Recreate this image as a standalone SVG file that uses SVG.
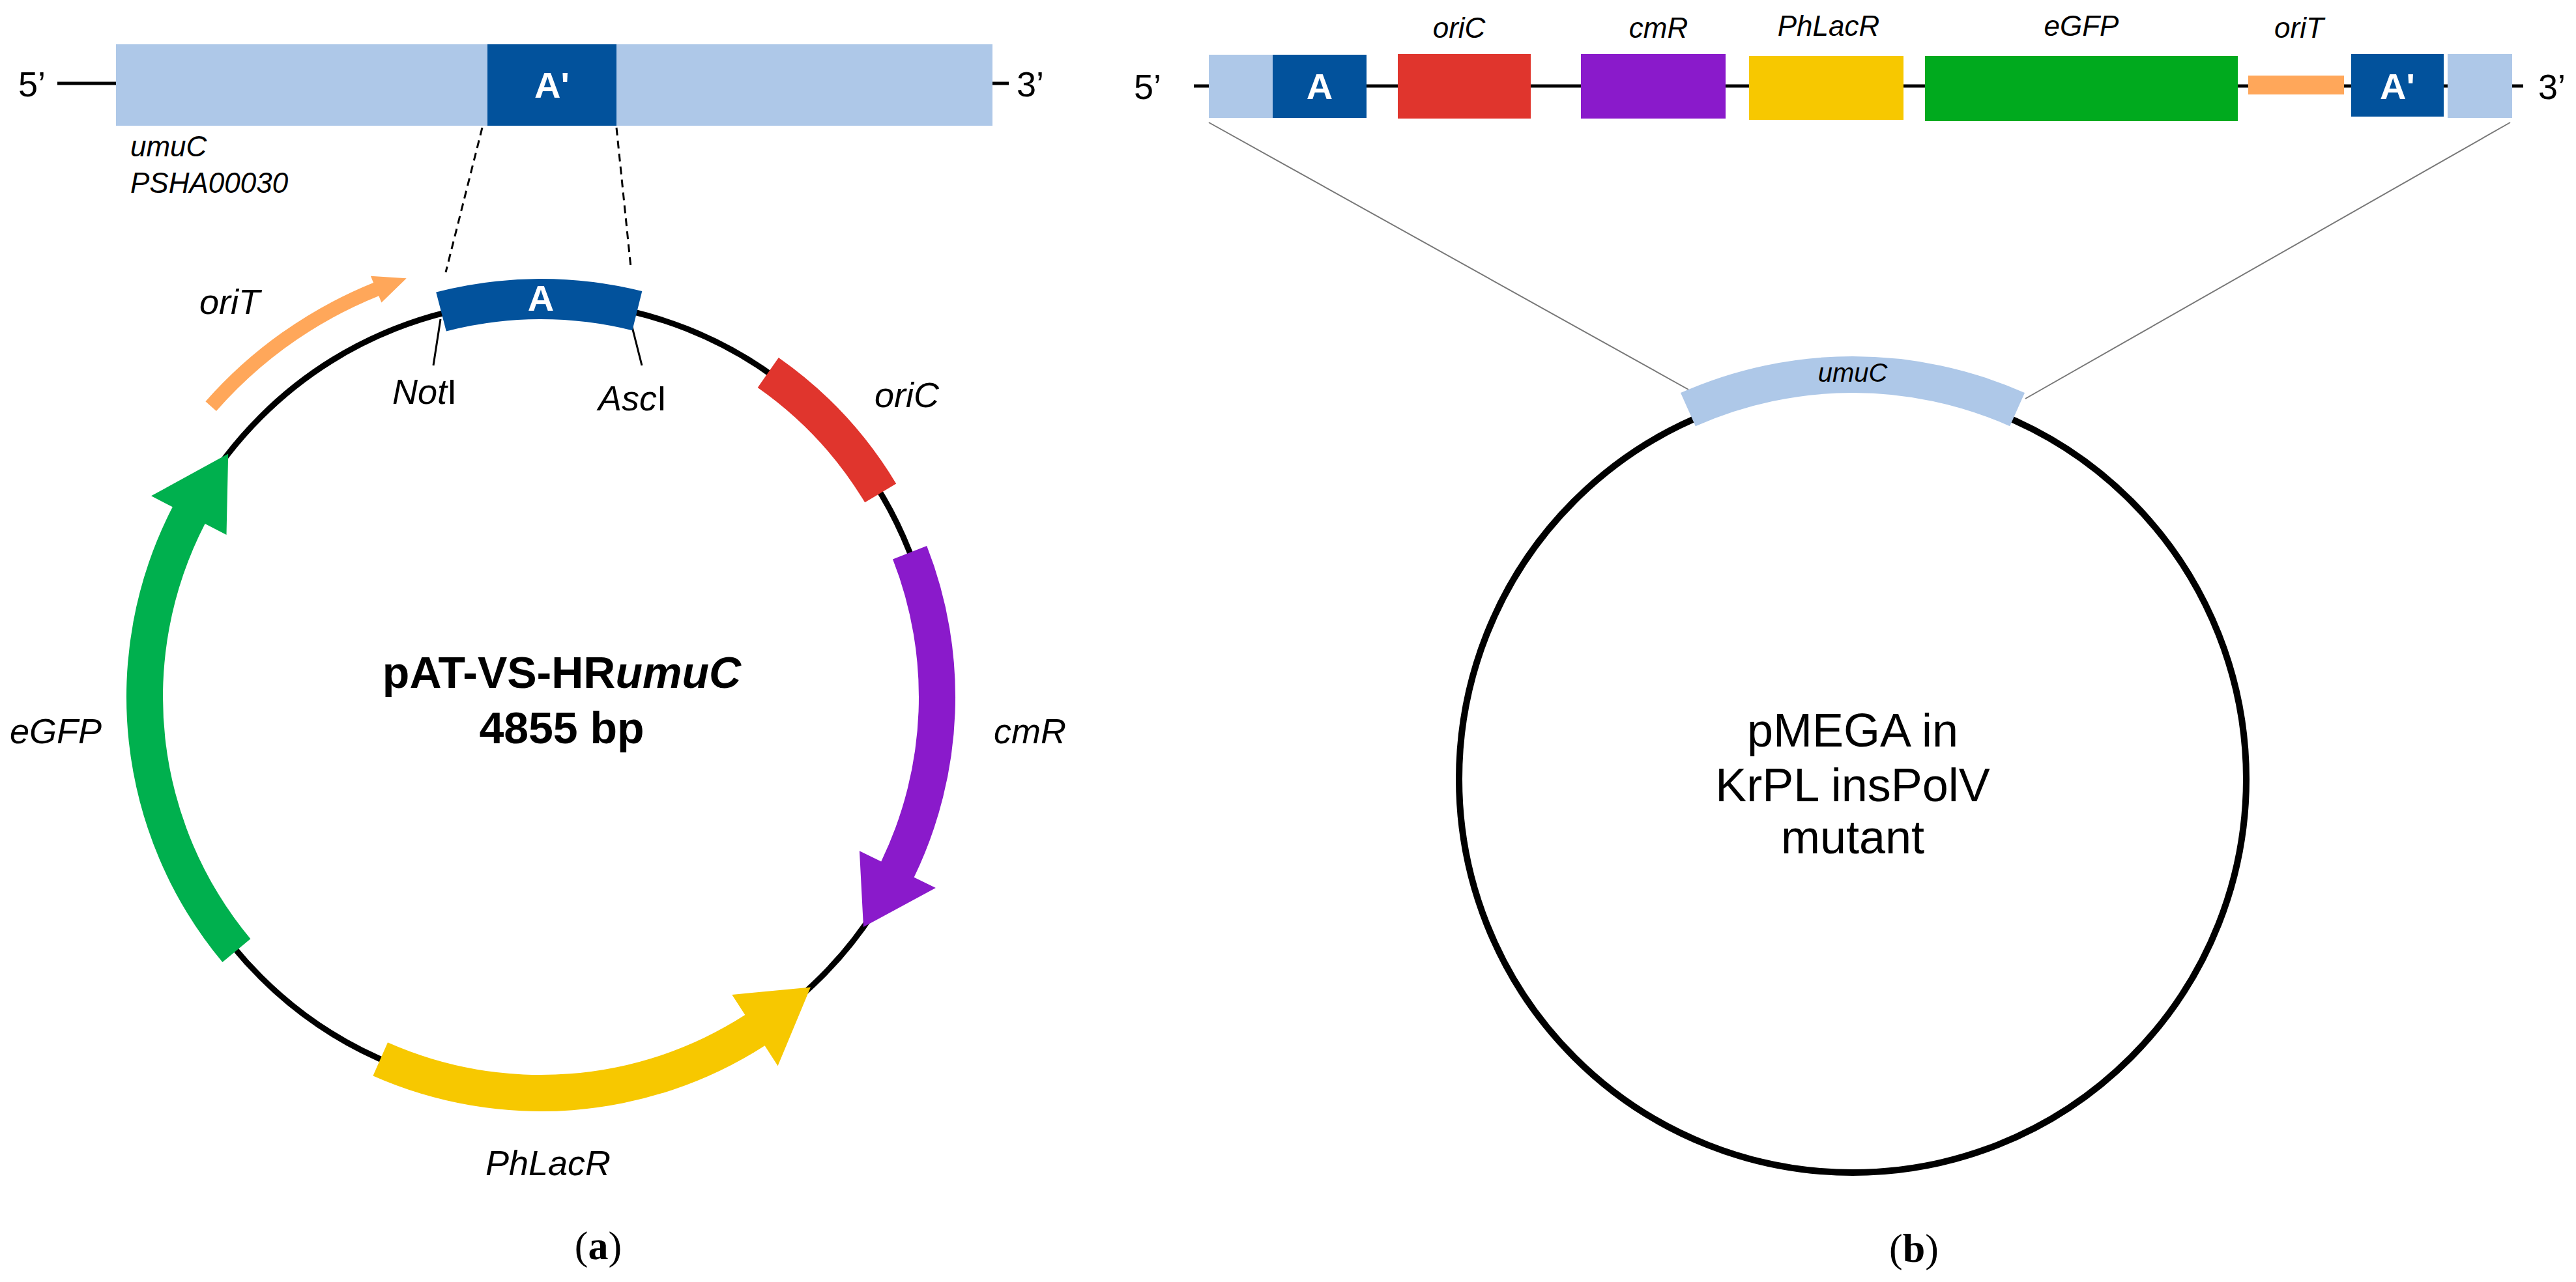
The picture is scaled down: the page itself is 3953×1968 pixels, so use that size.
<svg xmlns="http://www.w3.org/2000/svg" width="3953" height="1968" viewBox="0 0 3953 1968">
<style>
text{font-family:"Liberation Sans",Arial,sans-serif;fill:#000}
.it{font-style:italic}
.lb{font-size:54px;font-style:italic}
.sm{font-size:44px;font-style:italic}
.wb{font-weight:bold;fill:#fff;font-size:56px}
.bk{stroke:#000;fill:none}
.serif{font-family:"Liberation Serif","Times New Roman",serif;font-size:62px}
</style>
<rect width="3953" height="1968" fill="#fff"/>
<g id="connectors">
<line x1="740" y1="196" x2="684" y2="418" stroke="#000" stroke-width="3" stroke-dasharray="12 8"/>
<line x1="946" y1="196" x2="968" y2="410" stroke="#000" stroke-width="3" stroke-dasharray="12 8"/>
<line x1="1855" y1="188" x2="2591" y2="598" stroke="#777" stroke-width="2"/>
<line x1="3852" y1="188" x2="3108" y2="612" stroke="#777" stroke-width="2"/>
<line x1="676" y1="490" x2="665" y2="561" stroke="#000" stroke-width="3"/>
<line x1="967" y1="490" x2="985" y2="561" stroke="#000" stroke-width="3"/>
</g>
<g id="top-left-gene">
<line x1="88" y1="128" x2="1548" y2="128" stroke="#000" stroke-width="5"/>
<rect x="178" y="68" width="1345" height="125" fill="#AEC8E8"/>
<rect x="748" y="68" width="198" height="125" fill="#02529C"/>
<text x="847" y="150" class="wb" text-anchor="middle">A'</text>
<text x="28" y="148" font-size="54">5’</text>
<text x="1560" y="148" font-size="54">3’</text>
<text x="200" y="240" class="sm">umuC</text>
<text x="200" y="296" class="sm">PSHA00030</text>
</g>
<g id="plasmid-a">
<circle cx="830" cy="1070" r="608" class="bk" stroke-width="9"/>
<path id="A-seg" d="M669.2,448.5 A642,642 0 0 1 985.3,447.1 L970.3,507.2 A580,580 0 0 0 684.8,508.5 Z" fill="#02529C"/>
<text x="830" y="477" class="wb" font-size="50" text-anchor="middle">A</text>
<path id="oriC-a" d="M1194.8,549 A636,636 0 0 1 1375.2,742.5 L1327.2,771.3 A580,580 0 0 0 1162.7,594.9 Z" fill="#E0352D"/>
<path id="cmR-a" d="M1422.2,837.9 A636,636 0 0 1 1402.6,1346.8 L1435.9,1362.9 L1325,1423.1 L1318.9,1306.3 L1352.2,1322.4 A580,580 0 0 0 1370,858.4 Z" fill="#8A1ACB"/>
<path id="PhLacR-a" d="M572.4,1651.5 A636,636 0 0 0 1173.6,1605.2 L1193.6,1636.3 L1243.9,1515.4 L1123.3,1526.9 L1143.3,1558.1 A580,580 0 0 1 595,1600.3 Z" fill="#F7C800"/>
<path id="eGFP-a" d="M341.4,1477.1 A636,636 0 0 1 264.8,778.3 L232,761.3 L350.2,696.5 L347.5,820.9 L314.6,804 A580,580 0 0 0 384.4,1441.3 Z" fill="#00B04E"/>
<path id="oriT-a" d="M315.4,616.3 A686,686 0 0 1 573,433.9 L568.9,423.7 L623.7,427.3 L585.4,464.5 L581.3,454.3 A664,664 0 0 0 331.9,630.9 Z" fill="#FFA75A"/>
<text x="306" y="482" class="lb">oriT</text>
<text x="1342" y="625" class="lb">oriC</text>
<text x="1525" y="1141" class="lb">cmR</text>
<text x="15" y="1141" class="lb">eGFP</text>
<text x="745" y="1804" class="lb">PhLacR</text>
<text x="602" y="620" font-size="54"><tspan class="it">Not</tspan>I</text>
<text x="918" y="630" font-size="54"><tspan class="it">Asc</tspan>I</text>
<text x="862" y="1056" font-size="68" font-weight="bold" text-anchor="middle">pAT-VS-HR<tspan class="it">umuC</tspan></text>
<text x="862" y="1141" font-size="68" font-weight="bold" text-anchor="middle">4855 bp</text>
<text x="918" y="1933" class="serif" text-anchor="middle">(<tspan font-weight="bold">a</tspan>)</text>
</g>
<g id="top-right-construct">
<line x1="1832" y1="132" x2="3872" y2="132" stroke="#000" stroke-width="5"/>
<rect x="1855" y="84" width="98" height="97" fill="#AEC8E8"/>
<rect x="1953" y="84" width="144" height="97" fill="#02529C"/>
<text x="2025" y="152" class="wb" text-anchor="middle">A</text>
<rect x="2145" y="83" width="204" height="99" fill="#E0352D"/>
<rect x="2426" y="83" width="222" height="99" fill="#8A1ACB"/>
<rect x="2684" y="86" width="237" height="98" fill="#F7C800"/>
<rect x="2954" y="86" width="480" height="100" fill="#00AA1E"/>
<rect x="3450" y="116" width="147" height="29" fill="#FFA75A"/>
<rect x="3608" y="83" width="142" height="96" fill="#02529C"/>
<text x="3679" y="152" class="wb" text-anchor="middle">A'</text>
<rect x="3756" y="83" width="99" height="98" fill="#AEC8E8"/>
<text x="1740" y="152" font-size="54">5’</text>
<text x="3895" y="152" font-size="54">3’</text>
<text x="2239" y="58" class="sm" text-anchor="middle">oriC</text>
<text x="2545" y="58" class="sm" text-anchor="middle">cmR</text>
<text x="2806" y="55" class="sm" text-anchor="middle">PhLacR</text>
<text x="3194" y="55" class="sm" text-anchor="middle">eGFP</text>
<text x="3528" y="58" class="sm" text-anchor="middle">oriT</text>
</g>
<g id="plasmid-b">
<circle cx="2843" cy="1196" r="604" class="bk" stroke-width="10"/>
<path id="umuC-b" d="M2579,603.1 A649,649 0 0 1 3107,603.1 L3084.2,654.3 A593,593 0 0 0 2601.8,654.3 Z" fill="#AEC8E8"/>
<text x="2843" y="586" font-size="40" class="it" text-anchor="middle">umuC</text>
<text x="2843" y="1146" font-size="72" text-anchor="middle">pMEGA in</text>
<text x="2843" y="1230" font-size="72" text-anchor="middle">KrPL insPolV</text>
<text x="2843" y="1310" font-size="72" text-anchor="middle">mutant</text>
<text x="2937" y="1937" class="serif" text-anchor="middle">(<tspan font-weight="bold">b</tspan>)</text>
</g>
</svg>
